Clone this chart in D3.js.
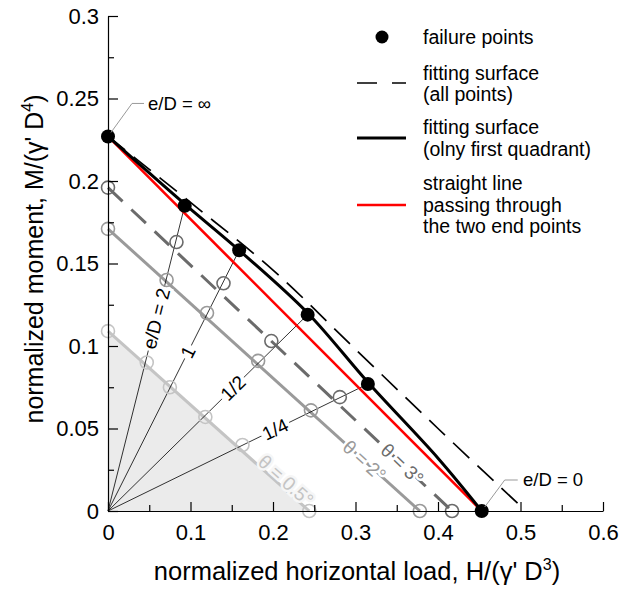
<!DOCTYPE html>
<html><head><meta charset="utf-8">
<script src="https://cdn.jsdelivr.net/npm/d3@7"></script>
<style>body{margin:0;background:#fff} svg{display:block} text{font-family:"Liberation Sans",Arial,sans-serif;fill:#000}</style>
</head><body><svg id="c" width="634" height="590"></svg>
<script>
// ---------- data ----------
const xTicks=[0,0.1,0.2,0.3,0.4,0.5,0.6];
const xTickLabels=["0","0.1","0.2","0.3","0.4","0.5","0.6"];
const yTicks=[0,0.05,0.1,0.15,0.2,0.25,0.3];
const yTickLabels=["0","0.05","0.1","0.15","0.2","0.25","0.3"];
const xMinor=[0.05,0.15,0.25,0.35,0.45,0.55];
const yMinor=[0.025,0.075,0.125,0.175,0.225,0.275];

const failH=[0,0.093,0.159,0.242,0.315,0.453];
const failM=[0.227,0.185,0.158,0.119,0.077,0];
const radialLabels=["e/D = 2","1","1/2","1/4"];

const fitAllH=[0,0.1,0.2,0.3,0.4,0.498];
const fitAllM=[0.227,0.187,0.146,0.098,0.05,0.004];
const fitQ1H=[0,0.093,0.159,0.242,0.315,0.40,0.453];
const fitQ1M=[0.227,0.186,0.158,0.120,0.078,0.032,0];

const theta3H=[0,0.083,0.140,0.198,0.281,0.417];
const theta3M=[0.196,0.163,0.138,0.103,0.069,0];
const theta2H=[0,0.071,0.120,0.182,0.246,0.378];
const theta2M=[0.171,0.140,0.120,0.091,0.061,0];
const theta05H=[0,0.047,0.075,0.118,0.163,0.244];
const theta05M=[0.109,0.090,0.075,0.057,0.040,0];
const thetaLabels=["θ = 0.5°","θ = 2°","θ = 3°"];

const legendLabels=[["failure points"],["fitting surface","(all points)"],["fitting surface","(olny first quadrant)"],["straight line","passing through","the two end points"]];

// ---------- chart ----------
const svg=d3.select("#c");
const x=d3.scaleLinear().domain([0,0.6]).range([108,603]);
const y=d3.scaleLinear().domain([0,0.3]).range([511,16]);
const zip=(a,b)=>a.map((v,i)=>[v,b[i]]);
const line=d3.line().x(d=>x(d[0])).y(d=>y(d[1]));
const smooth=d3.line().x(d=>x(d[0])).y(d=>y(d[1])).curve(d3.curveCatmullRom.alpha(0.5));

// shaded region under theta = 0.5
svg.append("path").attr("d",line([[0,0],[theta05H[0],theta05M[0]],[theta05H[theta05H.length-1],0]])+"Z").attr("fill","#ebebeb");

// theta lines
const thetaSets=[
  {H:theta05H,M:theta05M,c:"#c4c4c4",dash:null,lab:thetaLabels[0],f:0.86,off:-7},
  {H:theta2H,M:theta2M,c:"#9a9a9a",dash:null,lab:thetaLabels[1],f:0.822,off:0},
  {H:theta3H,M:theta3M,c:"#6b6b6b",dash:"20,12",lab:thetaLabels[2],f:0.855,off:0}
];
thetaSets.forEach(s=>{
  const n=s.H.length-1;
  svg.append("path").attr("d",line([[s.H[0],s.M[0]],[s.H[n],s.M[n]]])).attr("fill","none")
    .attr("stroke",s.c).attr("stroke-width",3).attr("stroke-dasharray",s.dash);
});

// radial e/D lines
const radial=svg.append("g");
for(let i=1;i<=4;i++){
  radial.append("path").attr("d",line([[0,0],[failH[i],failM[i]]])).attr("stroke","#000").attr("stroke-width",0.8).attr("fill","none");
}
const radialT=[0.63,0.61,0.626,0.643];
for(let i=1;i<=4;i++){
  const px0=x(0),py0=y(0),px1=x(failH[i]),py1=y(failM[i]);
  const t=radialT[i-1];
  const cx=px0+(px1-px0)*t, cy=py0+(py1-py0)*t;
  const ang=Math.atan2(py1-py0,px1-px0)*180/Math.PI;
  const g=svg.append("g").attr("transform",`translate(${cx},${cy}) rotate(${ang})`);
  const r=g.append("rect").attr("fill","#fff");
  const tx=g.append("text").attr("text-anchor","middle").attr("dy","0.35em").attr("font-size",19).text(radialLabels[i-1]);
  const b=tx.node().getBBox();
  r.attr("x",b.x-2).attr("y",b.y+1).attr("width",b.width+4).attr("height",b.height-2);
}

// theta labels
thetaSets.forEach(s=>{
  const n=s.H.length-1;
  const px0=x(s.H[0]),py0=y(s.M[0]),px1=x(s.H[n]),py1=y(s.M[n]);
  const cx=px0+(px1-px0)*s.f, cy=py0+(py1-py0)*s.f;
  const ang=Math.atan2(py1-py0,px1-px0)*180/Math.PI;
  svg.append("g").attr("transform",`translate(${cx},${cy}) rotate(${ang}) translate(0,${s.off})`)
    .append("text").attr("text-anchor","middle").attr("dy","0.35em").attr("font-size",19)
    .style("fill",s.c).attr("stroke",s.off?"#f6f6f6":"#fff").attr("stroke-width",5).attr("paint-order","stroke")
    .text(s.lab);
});

// theta circles
thetaSets.forEach(s=>{
  svg.append("g").selectAll("circle").data(zip(s.H,s.M)).join("circle")
    .attr("cx",d=>x(d[0])).attr("cy",d=>y(d[1])).attr("r",6.5)
    .attr("fill","none").attr("stroke",s.c).attr("stroke-width",1.6);
});

// red straight line between end points
const nF=failH.length-1;
svg.append("path").attr("d",line([[failH[0],failM[0]],[failH[nF],failM[nF]]])).attr("stroke","#ff0000").attr("stroke-width",2.6).attr("fill","none");
// fitting surface first quadrant
svg.append("path").attr("d",smooth(zip(fitQ1H,fitQ1M))).attr("stroke","#000").attr("stroke-width",3).attr("fill","none");
// fitting surface all points
svg.append("path").attr("d",smooth(zip(fitAllH,fitAllM))).attr("stroke","#000").attr("stroke-width",1.7).attr("stroke-dasharray","22,11").attr("fill","none");

// failure points
svg.append("g").selectAll("circle").data(zip(failH,failM)).join("circle")
  .attr("cx",d=>x(d[0])).attr("cy",d=>y(d[1])).attr("r",7).attr("fill","#000");

// axes
const fmtX=d=>xTickLabels[xTicks.indexOf(d)];
const fmtY=d=>yTickLabels[yTicks.indexOf(d)];
svg.append("g").attr("transform",`translate(0,${y(0)})`)
  .call(d3.axisBottom(x).tickValues(xTicks).tickSize(-9).tickSizeOuter(0).tickPadding(13).tickFormat(fmtX));
svg.append("g").attr("transform",`translate(0,${y(0)})`)
  .call(d3.axisBottom(x).tickValues(xMinor).tickSize(-6).tickSizeOuter(0).tickFormat("")).select(".domain").remove();
svg.append("g").attr("transform",`translate(${x(0)},0)`)
  .call(d3.axisLeft(y).tickValues(yTicks).tickSize(-10).tickSizeOuter(0).tickPadding(9).tickFormat(fmtY));
svg.append("g").attr("transform",`translate(${x(0)},0)`)
  .call(d3.axisLeft(y).tickValues(yMinor).tickSize(-6).tickSizeOuter(0).tickFormat("")).select(".domain").remove();
svg.selectAll(".tick line,.domain").attr("stroke","#000").attr("stroke-width",1.2);
svg.selectAll(".tick text").attr("font-size",22).attr("font-family","Liberation Sans, Arial, sans-serif");

// axis titles
const xt=svg.append("text").attr("x",357).attr("y",580).attr("text-anchor","middle").attr("font-size",25.5);
xt.append("tspan").text("normalized horizontal load, H/(γ' D");
xt.append("tspan").attr("font-size",16).attr("dy",-10).text("3");
xt.append("tspan").attr("dy",10).text(")");
const yt=svg.append("text").attr("transform","translate(43,259) rotate(-90)").attr("text-anchor","middle").attr("font-size",25);
yt.append("tspan").text("normalized moment, M/(γ' D");
yt.append("tspan").attr("font-size",16).attr("dy",-10).text("4");
yt.append("tspan").attr("dy",10).text(")");

// end-point annotations
svg.append("path").attr("d",`M${x(failH[0])+3},${y(failM[0])-4} L${x(0)+24},${y(failM[0])-33} L${x(0)+36},${y(failM[0])-33}`).attr("fill","none").attr("stroke","#999").attr("stroke-width",1);
svg.append("text").attr("x",148).attr("y",y(failM[0])-33).attr("dy","0.35em").attr("font-size",18.5).text("e/D = ∞");
svg.append("path").attr("d",`M${x(failH[nF])+3},${y(0)-4} L${x(failH[nF])+23},${y(0)-31} L${x(failH[nF])+36},${y(0)-31}`).attr("fill","none").attr("stroke","#999").attr("stroke-width",1);
svg.append("text").attr("x",523).attr("y",y(0)-31).attr("dy","0.35em").attr("font-size",18.5).text("e/D = 0");

// legend
const lg=svg.append("g").attr("font-size",19.5);
const lx=357, lw=49, tx0=423;
lg.append("circle").attr("cx",382).attr("cy",37).attr("r",6.5).attr("fill","#000");
lg.append("path").attr("d",`M${lx},83 H${lx+lw}`).attr("stroke","#000").attr("stroke-width",1.7).attr("stroke-dasharray","20,15");
lg.append("path").attr("d",`M${lx},138 H${lx+lw}`).attr("stroke","#000").attr("stroke-width",3);
lg.append("path").attr("d",`M${lx},205 H${lx+lw}`).attr("stroke","#ff0000").attr("stroke-width",2.6);
const ly=[[37],[73,94.5],[127.5,149],[183.5,205,226.5]];
legendLabels.forEach((ls,i)=>ls.forEach((t,j)=>{
  lg.append("text").attr("x",tx0).attr("y",ly[i][j]).attr("dy","0.35em").text(t);
}));
</script></body></html>
